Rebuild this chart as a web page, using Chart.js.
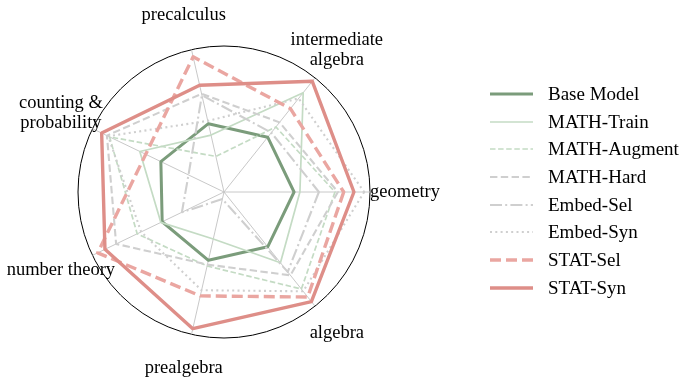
<!DOCTYPE html>
<html>
<head>
<meta charset="utf-8">
<script src="https://cdn.jsdelivr.net/npm/chart.js@4.4.1/dist/chart.umd.min.js"></script>
<style>
  html, body { margin: 0; padding: 0; background: #fff; }
  #wrap { position: relative; width: 698px; height: 385px; }
  #legend {
    position: absolute; left: 490px; top: 80px;
    font-family: "Liberation Serif", "Times New Roman", serif;
    font-size: 19px; color: #000;
  }
  .item { display: flex; align-items: center; height: 27.7px; white-space: nowrap; }
  .item svg { width: 43px; height: 10px; margin-right: 15px; flex: none; }
</style>
</head>
<body>
<div id="wrap">
  <canvas id="radarChart" width="698" height="385"></canvas>
  <div id="legend"></div>
</div>
<script>
// categories, clockwise from the right-hand axis
const categories = [
  "geometry",
  "algebra",
  "prealgebra",
  "number theory",
  "counting &\nprobability",
  "precalculus",
  "intermediate\nalgebra",
];

// scores, outer circle = 100
const baseModel = [48, 48, 48, 47, 48, 48, 48];
const mathTrain = [52, 62, 33, 48, 64, 40, 87];
const mathAugment = [76, 85, 52, 66, 87, 25, 57];
const mathHard = [78, 73, 51, 82, 89, 69, 61];
const embedSel = [65, 70, 5, 32, 27, 68, 52];
const embedSyn = [96, 87, 69, 63, 88, 50, 82];
const statSel = [82, 92, 73, 96, 59.5, 95, 73];
const statSyn = [89, 96, 96, 90.5, 93, 75, 97];

const seriesNames = [
  "Base Model",
  "MATH-Train",
  "MATH-Augment",
  "MATH-Hard",
  "Embed-Sel",
  "Embed-Syn",
  "STAT-Sel",
  "STAT-Syn",
];
const seriesValues = [
  baseModel, mathTrain, mathAugment, mathHard,
  embedSel, embedSyn, statSel, statSyn,
];

const GREEN_DARK = "#7b9c7b";
const GREEN_LIGHT = "#c4dbc4";
const GREY_LIGHT = "#cfcfcf";
const PINK_LIGHT = "#eaa6a1";
const PINK = "#de8e88";

const seriesStyles = [
  { color: GREEN_DARK, width: 3, dash: [] },
  { color: GREEN_LIGHT, width: 1.7, dash: [] },
  { color: GREEN_LIGHT, width: 1.7, dash: [5.5, 2.6] },
  { color: GREY_LIGHT, width: 2.1, dash: [7.4, 3.4] },
  { color: GREY_LIGHT, width: 2.1, dash: [12, 3.2, 2, 3.2] },
  { color: GREY_LIGHT, width: 2.1, dash: [2, 3.3] },
  { color: PINK_LIGHT, width: 3.4, dash: [11, 5] },
  { color: PINK, width: 3.4, dash: [] },
];

const LABEL_GAP = 35;
const LABEL_LINE = 20;
const LABEL_FONT = '18.5px "Liberation Serif", "Times New Roman", serif';

const outerLabels = {
  id: "outerLabels",
  afterDraw(chart) {
    const scale = chart.scales.r;
    const ctx = chart.ctx;
    ctx.save();
    ctx.font = LABEL_FONT;
    ctx.fillStyle = "#000";
    ctx.textAlign = "center";
    ctx.textBaseline = "middle";
    categories.forEach((label, i) => {
      const lines = label.split("\n");
      const pos = scale.getPointPosition(i, scale.drawingArea + LABEL_GAP);
      const top = pos.y - ((lines.length - 1) * LABEL_LINE) / 2;
      lines.forEach((line, j) => ctx.fillText(line, pos.x, top + j * LABEL_LINE));
    });
    ctx.restore();
  },
};

const datasets = seriesNames.map((name, i) => ({
  label: name,
  data: seriesValues[i],
  borderColor: seriesStyles[i].color,
  borderWidth: seriesStyles[i].width,
  borderDash: seriesStyles[i].dash,
  borderJoinStyle: "round",
  fill: false,
  pointRadius: 0,
  pointHoverRadius: 0,
  // later series sit on top, as in the original
  order: seriesNames.length - 1 - i,
}));

new Chart(document.getElementById("radarChart"), {
  type: "radar",
  data: { labels: categories, datasets },
  options: {
    responsive: false,
    animation: false,
    layout: { padding: { left: 78, right: 327, top: 46, bottom: 47 } },
    plugins: {
      legend: { display: false },
      tooltip: { enabled: false },
    },
    scales: {
      r: {
        min: 0,
        max: 100,
        startAngle: 90,
        ticks: { display: false, stepSize: 100 },
        grid: { circular: true, color: "#000", lineWidth: 1 },
        angleLines: { color: "#c2c2c2", lineWidth: 0.9 },
        pointLabels: { display: false },
      },
    },
  },
  plugins: [outerLabels],
});

// legend built from the same names and styles
const legend = document.getElementById("legend");
seriesNames.forEach((name, i) => {
  const st = seriesStyles[i];
  const row = document.createElement("div");
  row.className = "item";
  row.innerHTML =
    `<svg viewBox="0 0 43 10"><line x1="0" y1="5" x2="43" y2="5" stroke="${st.color}" ` +
    `stroke-width="${st.width}" stroke-dasharray="${st.dash.length ? st.dash.join(" ") : "none"}"/></svg>` +
    `<span>${name}</span>`;
  legend.appendChild(row);
});
</script>
</body>
</html>
